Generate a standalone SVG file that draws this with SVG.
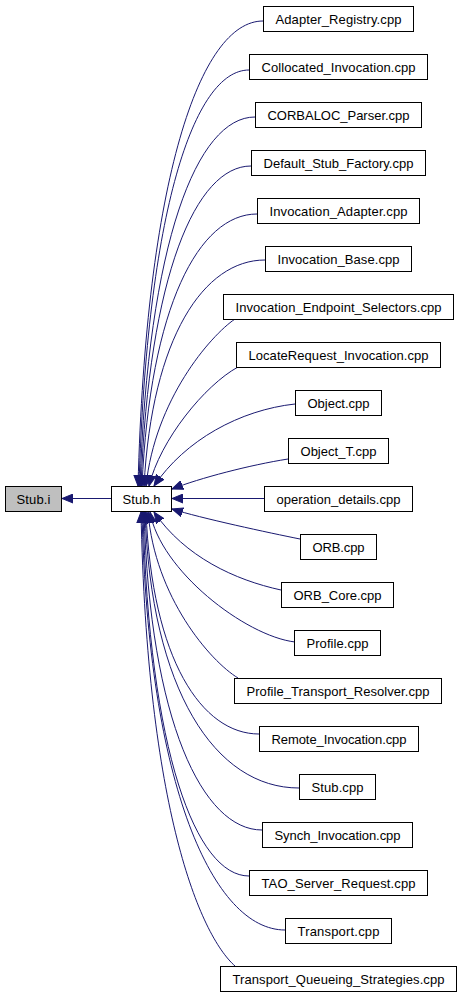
<svg xmlns="http://www.w3.org/2000/svg" width="461" height="995" viewBox="0 0 461 995">
<style>
  .node rect { fill: #ffffff; stroke: #000000; stroke-width: 1; }
  .node.root rect { fill: #bfbfbf; }
  .node text { font-family: "Liberation Sans", Arial, sans-serif; font-size: 13px; text-anchor: middle; fill: #000000; }
  #edges path { fill: none; stroke: #191970; stroke-width: 1; marker-end: url(#arr); }
</style>
<defs>
  <marker id="arr" markerUnits="userSpaceOnUse" markerWidth="12" markerHeight="10" viewBox="0 -5 12 10" refX="11" refY="0" orient="auto">
    <path d="M0,-4.5 L11,0 L0,4.5 Z" fill="#191970" stroke="#191970" stroke-width="1"/>
  </marker>
</defs>
<rect x="0" y="0" width="461" height="995" fill="#ffffff"/>
<g id="edges">
  <path d="M111,498.5 L62,498.5"/>
  <path d="M263,21 C200,21 146,179 138,486"/>
  <path d="M249,70 C194,70 147,211 139,486"/>
  <path d="M255,117 C197,117 148,242 140,486"/>
  <path d="M251,166 C196,166 149,275 141,486"/>
  <path d="M257,214 C199,214 150,306 142,486"/>
  <path d="M265,260 C204,260 152,337 144,486"/>
  <path d="M235,319 C210,336 155,400 146,486"/>
  <path d="M238,367 C205,385 160,440 149,486"/>
  <path d="M295,404 C240,410 185,440 154,486"/>
  <path d="M288,459 C250,465 200,478 172,489"/>
  <path d="M264,498.5 L172,498.5"/>
  <path d="M300,539 C270,533 200,518 172,509"/>
  <path d="M281,590 C235,580 185,557 154,512"/>
  <path d="M295,642 C245,636 160,570 150,512"/>
  <path d="M238,678 C210,661 155,597 148,512"/>
  <path d="M259,734 C202,734 152,660 146,512"/>
  <path d="M299,788 C215,788 151,690 145,512"/>
  <path d="M262,830 C203,830 150,722 144,512"/>
  <path d="M249,876 C196,876 149,752 143,512"/>
  <path d="M285,930 C214,930 148,788 142,512"/>
  <path d="M235,966 C200,935 147,810 141,512"/>
</g>
<g id="stub_i" class="node root"><rect x="5.5" y="486.5" width="56" height="25"/><text x="33.5" y="503.5" textLength="34" lengthAdjust="spacing">Stub.i</text></g>
<g id="stub_h" class="node"><rect x="111.5" y="486.5" width="60" height="25"/><text x="141.5" y="503.5" textLength="38" lengthAdjust="spacing">Stub.h</text></g>
<g id="adapter_registry" class="node"><rect x="263.5" y="6.5" width="150" height="25"/><text x="338.5" y="23.5" textLength="126" lengthAdjust="spacing">Adapter_Registry.cpp</text></g>
<g id="collocated_invocation" class="node"><rect x="249.5" y="54.5" width="178" height="25"/><text x="338.5" y="71.5" textLength="154" lengthAdjust="spacing">Collocated_Invocation.cpp</text></g>
<g id="corbaloc_parser" class="node"><rect x="255.5" y="102.5" width="166" height="25"/><text x="338.5" y="119.5" textLength="142" lengthAdjust="spacing">CORBALOC_Parser.cpp</text></g>
<g id="default_stub_factory" class="node"><rect x="251.5" y="150.5" width="174" height="25"/><text x="338.5" y="167.5" textLength="150" lengthAdjust="spacing">Default_Stub_Factory.cpp</text></g>
<g id="invocation_adapter" class="node"><rect x="257.5" y="198.5" width="162" height="25"/><text x="338.5" y="215.5" textLength="138" lengthAdjust="spacing">Invocation_Adapter.cpp</text></g>
<g id="invocation_base" class="node"><rect x="265.5" y="246.5" width="146" height="25"/><text x="338.5" y="263.5" textLength="122" lengthAdjust="spacing">Invocation_Base.cpp</text></g>
<g id="invocation_endpoint_selectors" class="node"><rect x="223.5" y="294.5" width="230" height="25"/><text x="338.5" y="311.5" textLength="206" lengthAdjust="spacing">Invocation_Endpoint_Selectors.cpp</text></g>
<g id="locaterequest_invocation" class="node"><rect x="236.5" y="342.5" width="204" height="25"/><text x="338.5" y="359.5" textLength="180" lengthAdjust="spacing">LocateRequest_Invocation.cpp</text></g>
<g id="object" class="node"><rect x="295.5" y="390.5" width="86" height="25"/><text x="338.5" y="407.5" textLength="62" lengthAdjust="spacing">Object.cpp</text></g>
<g id="object_t" class="node"><rect x="288.5" y="438.5" width="100" height="25"/><text x="338.5" y="455.5" textLength="76" lengthAdjust="spacing">Object_T.cpp</text></g>
<g id="operation_details" class="node"><rect x="264.5" y="486.5" width="148" height="25"/><text x="338.5" y="503.5" textLength="124" lengthAdjust="spacing">operation_details.cpp</text></g>
<g id="orb" class="node"><rect x="300.5" y="534.5" width="76" height="25"/><text x="338.5" y="551.5" textLength="52" lengthAdjust="spacing">ORB.cpp</text></g>
<g id="orb_core" class="node"><rect x="281.5" y="582.5" width="112" height="25"/><text x="337.5" y="599.5" textLength="88" lengthAdjust="spacing">ORB_Core.cpp</text></g>
<g id="profile" class="node"><rect x="294.5" y="630.5" width="86" height="25"/><text x="337.5" y="647.5" textLength="62" lengthAdjust="spacing">Profile.cpp</text></g>
<g id="profile_transport_resolver" class="node"><rect x="234.5" y="678.5" width="207" height="25"/><text x="338" y="695.5" textLength="183" lengthAdjust="spacing">Profile_Transport_Resolver.cpp</text></g>
<g id="remote_invocation" class="node"><rect x="259.5" y="726.5" width="159" height="25"/><text x="339" y="743.5" textLength="135" lengthAdjust="spacing">Remote_Invocation.cpp</text></g>
<g id="stub_cpp" class="node"><rect x="299.5" y="774.5" width="76" height="25"/><text x="337.5" y="791.5" textLength="52" lengthAdjust="spacing">Stub.cpp</text></g>
<g id="synch_invocation" class="node"><rect x="262.5" y="822.5" width="150" height="25"/><text x="337.5" y="839.5" textLength="126" lengthAdjust="spacing">Synch_Invocation.cpp</text></g>
<g id="tao_server_request" class="node"><rect x="249.5" y="870.5" width="178" height="25"/><text x="338.5" y="887.5" textLength="154" lengthAdjust="spacing">TAO_Server_Request.cpp</text></g>
<g id="transport" class="node"><rect x="285.5" y="918.5" width="106" height="25"/><text x="338.5" y="935.5" textLength="82" lengthAdjust="spacing">Transport.cpp</text></g>
<g id="transport_queueing_strategies" class="node"><rect x="220.5" y="966.5" width="236" height="25"/><text x="338.5" y="983.5" textLength="212" lengthAdjust="spacing">Transport_Queueing_Strategies.cpp</text></g>
</svg>
